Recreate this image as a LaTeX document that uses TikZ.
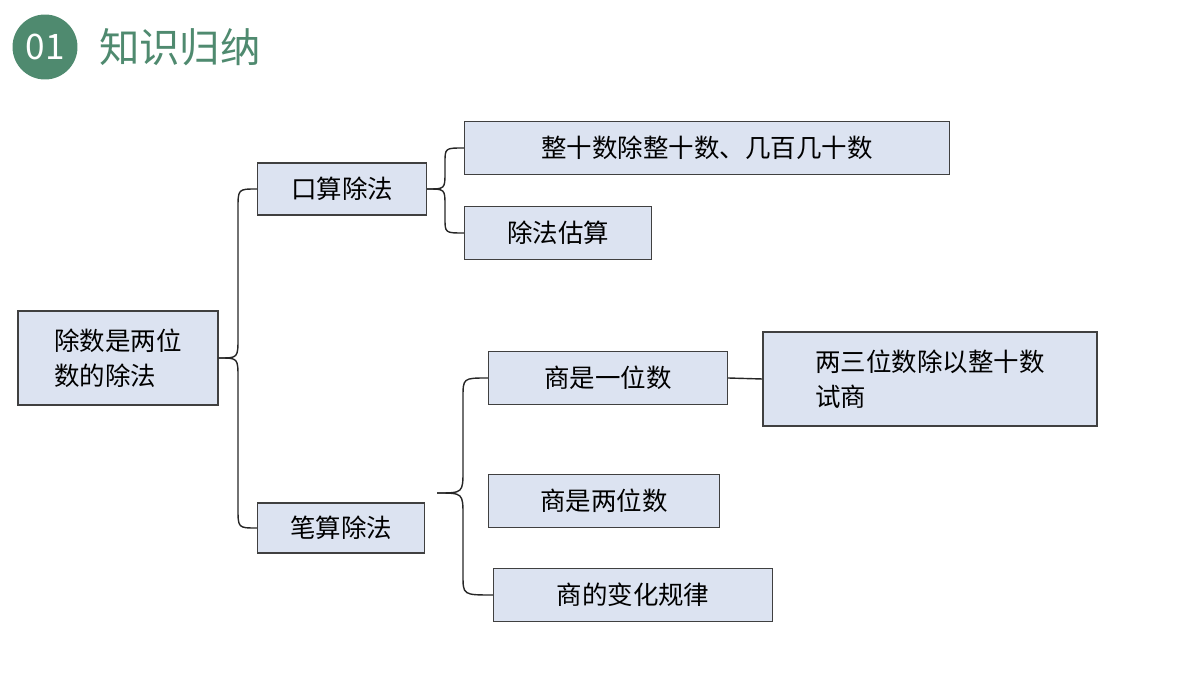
\documentclass[tikz,border=0pt]{standalone}
\usepackage{fontspec}
\newfontfamily\cjk{Noto Sans CJK SC}
\usetikzlibrary{positioning,calc}
\definecolor{boxfill}{HTML}{DCE3F1}
\definecolor{boxline}{HTML}{404040}
\definecolor{headgreen}{HTML}{4F8A6F}
\begin{document}
\begin{tikzpicture}[x=0.02cm,y=-0.02cm]

  \tikzstyle{B}=[draw=boxline,thick,fill=boxfill,rectangle,inner sep=0pt,
    font=\cjk\fontsize{14.5}{20}\selectfont,align=left];
  \tikzstyle{L}=[thick,color=black!85];

  \useasboundingbox (0,0) rectangle (1200,675);

  % header
  \node [circle,fill=headgreen,minimum size=1.3cm,text=white,
    font=\cjk\fontsize{20}{24}\selectfont] (num) at (45,47) {01};
  \node [right=0.3cm of num,text=headgreen,
    font=\cjk\fontsize{23}{28}\selectfont] (title) {知识归纳};

  %% boxes
  \node [B,minimum width=4cm,minimum height=1.88cm] (root) at (118,358) {除数是两位\\数的除法};
  \node [B,minimum width=3.38cm,minimum height=1.04cm] (ks) at (342,189) {口算除法};
  \node [B,minimum width=3.34cm,minimum height=1cm] (bs) at (341,528) {笔算除法};
  \node [B,minimum width=9.7cm,minimum height=1.06cm] (k1) at (707,148) {整十数除整十数、几百几十数};
  \node [B,minimum width=3.74cm,minimum height=1.06cm] (k2) at (558,233) {除法估算};
  \node [B,minimum width=4.78cm,minimum height=1.06cm] (b1) at (608,378) {商是一位数};
  \node [B,minimum width=6.68cm,minimum height=1.88cm] (b1a) at (930,379) {两三位数除以整十数\\试商};
  \node [B,minimum width=4.62cm,minimum height=1.06cm] (b2) at (604,501) {商是两位数};
  \node [B,minimum width=5.58cm,minimum height=1.06cm] (b3) at (633,595) {商的变化规律};

  %% braces
  \draw [L] (root.east) .. controls (238,358) .. (238,338) -- (238,209)
    .. controls (238,189) .. (ks.west);
  \draw [L] (root.east) .. controls (238,358) .. (238,378) -- (238,508)
    .. controls (238,528) .. (bs.west);
  \draw [L] (ks.east) .. controls (445,189) .. (445,172) -- (445,163)
    .. controls (445,148) .. (k1.west);
  \draw [L] (ks.east) .. controls (445,189) .. (445,206) -- (445,218)
    .. controls (445,233) .. (k2.west);
  \draw [L] (bs.west -| 437,0) ++(0,-35) coordinate (bb);
  \draw [L] (bs.east) ++(12,-35) coordinate (bm);
  \draw [L] (bm) .. controls (463,493) .. (463,470) -- (463,398)
    .. controls (463,378) .. (b1.west);
  \draw [L] (bm) .. controls (463,493) .. (463,516) -- (463,575)
    .. controls (463,595) .. (b3.west);
  \draw [L] (b1.east) -- (b1a.west);

\end{tikzpicture}
\end{document}
